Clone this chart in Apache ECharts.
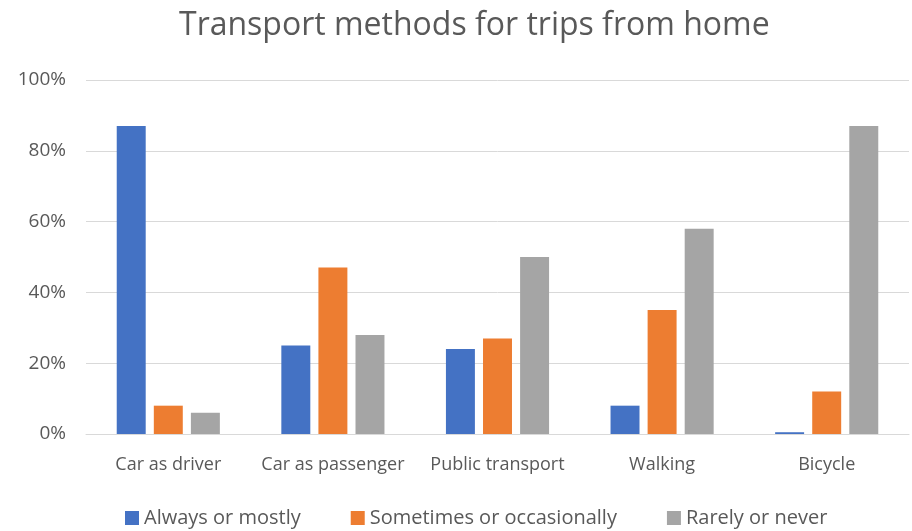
<!DOCTYPE html>
<html>
<head>
<meta charset="utf-8">
<script src="https://cdn.jsdelivr.net/npm/echarts@6/dist/echarts.min.js"></script>
<style>
  * { margin: 0; padding: 0; }
  html, body { background: #fff; }
  #chart { width: 912px; height: 531px; }
</style>
</head>
<body>
<div id="chart"></div>
<script>
const categories = ['Car as driver', 'Car as passenger', 'Public transport', 'Walking', 'Bicycle']
const always = [87, 25, 24, 8, 0.5]
const sometimes = [8, 47, 27, 35, 12]
const rarely = [6, 28, 50, 58, 87]
const seriesNames = ['Always or mostly', 'Sometimes or occasionally', 'Rarely or never']
const colors = ['#4472c4', '#ed7d31', '#a5a5a5']

const chart = echarts.init(document.getElementById('chart'))
const font = '"Open Sans", Lato, sans-serif'

function bar(name, data) {
  return {
    name: name,
    type: 'bar',
    data: data,
    barWidth: '17.6%',
    barGap: '28%'
  }
}

chart.setOption({
  color: colors,
  textStyle: { fontFamily: font },
  title: {
    text: 'Transport methods for trips from home',
    left: 174,
    top: 5,
    textStyle: { fontSize: 32, fontWeight: 'normal', color: '#595959', fontFamily: font }
  },
  legend: {
    bottom: -2,
    left: 120,
    itemWidth: 14,
    itemHeight: 14,
    itemGap: 50,
    icon: 'rect',
    textStyle: { fontSize: 20, color: '#595959', fontFamily: font },
    data: seriesNames
  },
  grid: { left: 86, right: 3, top: 80, bottom: 97 },
  xAxis: {
    type: 'category',
    data: categories,
    axisTick: { show: false },
    axisLine: { lineStyle: { color: '#d9d9d9', width: 1 } },
    axisLabel: { fontSize: 18, color: '#595959', margin: 22, interval: 0 }
  },
  yAxis: {
    type: 'value',
    min: 0,
    max: 100,
    interval: 20,
    axisLine: { show: false },
    axisTick: { show: false },
    splitLine: { lineStyle: { color: '#d9d9d9' } },
    axisLabel: { fontSize: 19, color: '#595959', formatter: '{value}%', margin: 20 }
  },
  series: [
    bar(seriesNames[0], always),
    bar(seriesNames[1], sometimes),
    bar(seriesNames[2], rarely)
  ]
})
</script>
</body>
</html>
